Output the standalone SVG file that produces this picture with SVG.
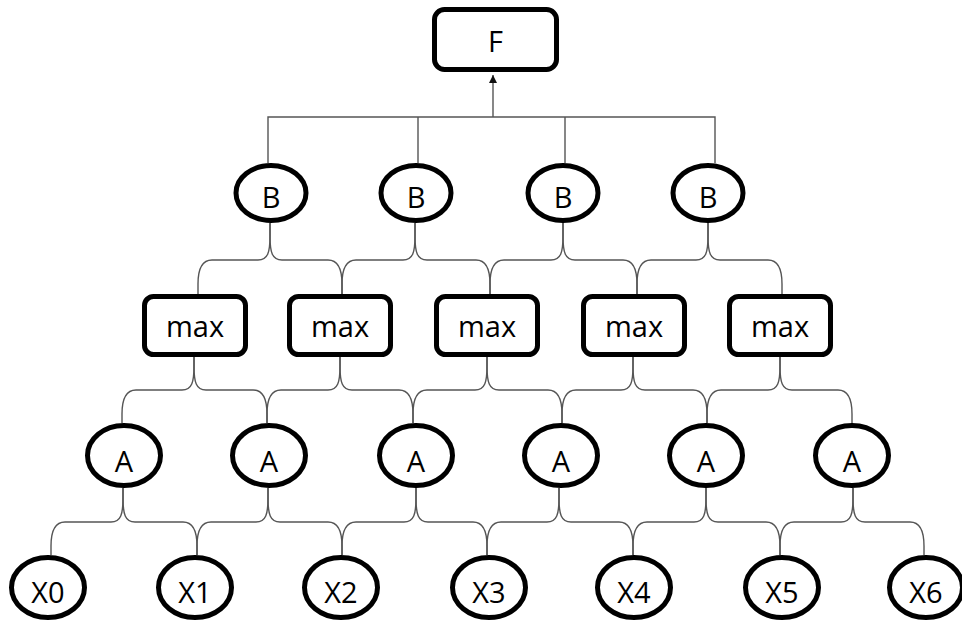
<svg xmlns="http://www.w3.org/2000/svg" width="962" height="622" viewBox="0 0 962 622">
<defs>
<style>
.box{fill:#fff;stroke:#000;stroke-width:5}
.ell{fill:#fff;stroke:#000;stroke-width:5}
.lbl{font-family:"Open Sans","DejaVu Sans",sans-serif;font-size:29px;fill:#000;text-anchor:middle}
.con{fill:none;stroke:#555;stroke-width:1.4}
</style>
<marker id="arr" viewBox="0 0 10 10" refX="10" refY="5" markerWidth="8" markerHeight="8" markerUnits="userSpaceOnUse" orient="auto">
<path d="M0,0 L10,5 L0,10 z" fill="#111"/>
</marker>
</defs>
<rect width="962" height="622" fill="#fff"/>
<g id="connectors">
<path class="con" d="M268,163 V117 H715 V163 M418,117 V163 M565,117 V163"/>
<path class="con" d="M493,117 V75" marker-end="url(#arr)"/>
<path class="con" d="M270,223 V236 C270,252 268,260 258,260 H212 C202,260 198,268 198,284 V294"/>
<path class="con" d="M270,223 V236 C270,252 272,260 282,260 H328 C338,260 342,268 342,284 V294"/>
<path class="con" d="M415,223 V236 C415,252 413,260 403,260 H356 C346,260 342,268 342,284 V294"/>
<path class="con" d="M415,223 V236 C415,252 417,260 427,260 H476 C486,260 490,268 490,284 V294"/>
<path class="con" d="M563,223 V236 C563,252 561,260 551,260 H504 C494,260 490,268 490,284 V294"/>
<path class="con" d="M563,223 V236 C563,252 565,260 575,260 H623 C633,260 637,268 637,284 V294"/>
<path class="con" d="M708,223 V236 C708,252 706,260 696,260 H651 C641,260 637,268 637,284 V294"/>
<path class="con" d="M708,223 V236 C708,252 710,260 720,260 H768 C778,260 782,268 782,284 V294"/>
<path class="con" d="M194,357 V366 C194,382 192,390 182,390 H136 C126,390 122,398 122,414 V423"/>
<path class="con" d="M194,357 V366 C194,382 196,390 206,390 H253 C263,390 267,398 267,414 V423"/>
<path class="con" d="M340,357 V366 C340,382 338,390 328,390 H281 C271,390 267,398 267,414 V423"/>
<path class="con" d="M340,357 V366 C340,382 342,390 352,390 H399 C409,390 413,398 413,414 V423"/>
<path class="con" d="M487,357 V366 C487,382 485,390 475,390 H427 C417,390 413,398 413,414 V423"/>
<path class="con" d="M487,357 V366 C487,382 489,390 499,390 H548 C558,390 562,398 562,414 V423"/>
<path class="con" d="M633,357 V366 C633,382 631,390 621,390 H576 C566,390 562,398 562,414 V423"/>
<path class="con" d="M633,357 V366 C633,382 635,390 645,390 H693 C703,390 707,398 707,414 V423"/>
<path class="con" d="M780,357 V366 C780,382 778,390 768,390 H721 C711,390 707,398 707,414 V423"/>
<path class="con" d="M780,357 V366 C780,382 782,390 792,390 H838 C848,390 852,398 852,414 V423"/>
<path class="con" d="M123,488 V498 C123,514 121,522 111,522 H65 C55,522 51,530 51,546 V555"/>
<path class="con" d="M123,488 V498 C123,514 125,522 135,522 H183 C193,522 197,530 197,546 V555"/>
<path class="con" d="M268,488 V498 C268,514 266,522 256,522 H211 C201,522 197,530 197,546 V555"/>
<path class="con" d="M268,488 V498 C268,514 270,522 280,522 H328 C338,522 342,530 342,546 V555"/>
<path class="con" d="M416,488 V498 C416,514 414,522 404,522 H356 C346,522 342,530 342,546 V555"/>
<path class="con" d="M416,488 V498 C416,514 418,522 428,522 H473 C483,522 487,530 487,546 V555"/>
<path class="con" d="M559,488 V498 C559,514 557,522 547,522 H501 C491,522 487,530 487,546 V555"/>
<path class="con" d="M559,488 V498 C559,514 561,522 571,522 H619 C629,522 633,530 633,546 V555"/>
<path class="con" d="M706,488 V498 C706,514 704,522 694,522 H647 C637,522 633,530 633,546 V555"/>
<path class="con" d="M706,488 V498 C706,514 708,522 718,522 H766 C776,522 780,530 780,546 V555"/>
<path class="con" d="M853,488 V498 C853,514 851,522 841,522 H794 C784,522 780,530 780,546 V555"/>
<path class="con" d="M853,488 V498 C853,514 855,522 865,522 H910 C920,522 924,530 924,546 V555"/>
</g>
<g id="F"><rect class="box" x="434.5" y="9.5" width="122" height="60" rx="10"/><text class="lbl" x="495.5" y="52">F</text></g>
<g id="B1"><ellipse class="ell" cx="271" cy="193" rx="35" ry="27.5"/><text class="lbl" x="271" y="208">B</text></g>
<g id="B2"><ellipse class="ell" cx="416" cy="193" rx="35" ry="27.5"/><text class="lbl" x="416" y="208">B</text></g>
<g id="B3"><ellipse class="ell" cx="563" cy="193" rx="35" ry="27.5"/><text class="lbl" x="563" y="208">B</text></g>
<g id="B4"><ellipse class="ell" cx="708" cy="193" rx="35" ry="27.5"/><text class="lbl" x="708" y="208">B</text></g>
<g id="max1"><rect class="box" x="144.5" y="296.5" width="101" height="58" rx="9"/><text class="lbl" x="195" y="337">max</text></g>
<g id="max2"><rect class="box" x="289.5" y="296.5" width="101" height="58" rx="9"/><text class="lbl" x="340" y="337">max</text></g>
<g id="max3"><rect class="box" x="436.5" y="296.5" width="101" height="58" rx="9"/><text class="lbl" x="487" y="337">max</text></g>
<g id="max4"><rect class="box" x="583.5" y="296.5" width="101" height="58" rx="9"/><text class="lbl" x="634" y="337">max</text></g>
<g id="max5"><rect class="box" x="729.5" y="296.5" width="101" height="58" rx="9"/><text class="lbl" x="780" y="337">max</text></g>
<g id="A1"><ellipse class="ell" cx="124" cy="455.5" rx="36.5" ry="30"/><text class="lbl" x="124" y="472">A</text></g>
<g id="A2"><ellipse class="ell" cx="269" cy="455.5" rx="36.5" ry="30"/><text class="lbl" x="269" y="472">A</text></g>
<g id="A3"><ellipse class="ell" cx="416" cy="455.5" rx="36.5" ry="30"/><text class="lbl" x="416" y="472">A</text></g>
<g id="A4"><ellipse class="ell" cx="561" cy="455.5" rx="36.5" ry="30"/><text class="lbl" x="561" y="472">A</text></g>
<g id="A5"><ellipse class="ell" cx="706" cy="455.5" rx="36.5" ry="30"/><text class="lbl" x="706" y="472">A</text></g>
<g id="A6"><ellipse class="ell" cx="852" cy="455.5" rx="36.5" ry="30"/><text class="lbl" x="852" y="472">A</text></g>
<g id="X0"><ellipse class="ell" cx="48" cy="587.5" rx="36.5" ry="30"/><text class="lbl" x="48" y="603">X0</text></g>
<g id="X1"><ellipse class="ell" cx="195" cy="587.5" rx="36.5" ry="30"/><text class="lbl" x="195" y="603">X1</text></g>
<g id="X2"><ellipse class="ell" cx="341" cy="587.5" rx="36.5" ry="30"/><text class="lbl" x="341" y="603">X2</text></g>
<g id="X3"><ellipse class="ell" cx="489" cy="587.5" rx="36.5" ry="30"/><text class="lbl" x="489" y="603">X3</text></g>
<g id="X4"><ellipse class="ell" cx="634" cy="587.5" rx="36.5" ry="30"/><text class="lbl" x="634" y="603">X4</text></g>
<g id="X5"><ellipse class="ell" cx="782" cy="587.5" rx="36.5" ry="30"/><text class="lbl" x="782" y="603">X5</text></g>
<g id="X6"><ellipse class="ell" cx="926" cy="587.5" rx="36.5" ry="30"/><text class="lbl" x="926" y="603">X6</text></g>
</svg>
